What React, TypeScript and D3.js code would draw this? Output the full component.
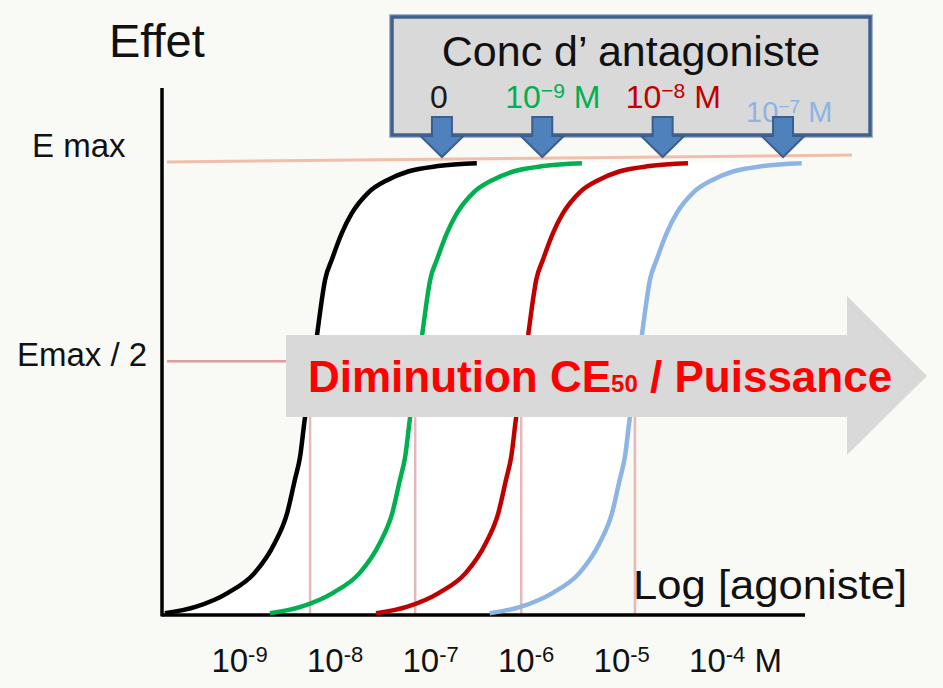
import React, { useEffect, useRef } from 'react';
import * as d3 from 'd3';

const WIDTH = 943;
const HEIGHT = 688;
const BG = '#f9f9f5';
const FONT = "'Liberation Sans', Arial, sans-serif";

// log10 [agoniste] tick values
const logTicks = [-9, -8, -7, -6, -5, -4];

// one dose-response curve:
// log offset from CE50 / effect in % of Emax
const profileLog = [-1.52, -1.2, -0.86, -0.58, -0.37, -0.24, -0.16, -0.105, -0.052, 0, 0.076, 0.112, 0.157, 0.227, 0.332, 0.437, 0.607, 0.817, 1.026, 1.34, 1.745];
const profileEffect = [0.4, 1.8, 4.9, 9.3, 15.9, 22.5, 29.8, 34.9, 43.8, 50, 62.3, 68, 74, 78.4, 84.3, 88.7, 93.2, 96.1, 97.9, 99.1, 99.7];

// antagonist concentrations (0, 10-9, 10-8, 10-7 M)
const antagonistExp = [null, '-9', '-8', '-7'];
const ec50Log = [-8.15, -7.05, -5.94, -4.75];
const pointerLog = [-6.77, -5.72, -4.46, -3.2];
const curveColors = ['#000000', '#00b050', '#c00000', '#8db4e2'];

const emaxLevel = 100;
const halfLevel = 56;

const App: React.FC = () => {
  const svgRef = useRef<SVGSVGElement | null>(null);

  useEffect(() => {
    if (!svgRef.current) return;
    const svg = d3.select(svgRef.current);
    svg.selectAll('*').remove();

    const x = d3.scaleLinear().domain([-9.7, -2.97]).range([162, 805]);
    const y = d3.scaleLinear().domain([0, 100]).range([615, 162]);
    const [x0, x1] = x.range();
    const yBottom = y(0);

    const line = d3.line<[number, number]>()
      .x(d => x(d[0]))
      .y(d => y(d[1]))
      .curve(d3.curveMonotoneX);

    const curvePts = ec50Log.map(ec =>
      profileLog.map((p, i) => [ec + p, profileEffect[i]] as [number, number])
    );

    svg.append('rect').attr('width', WIDTH).attr('height', HEIGHT).attr('fill', BG);

    // white band between first and last curve
    const first = curvePts[0];
    const last = curvePts[curvePts.length - 1];
    svg.append('path')
      .attr('d', line(first) + ` L${x1},${y(emaxLevel)} L${x1},${yBottom} L${x(first[0][0])},${yBottom} Z`)
      .attr('fill', '#ffffff');
    svg.append('path')
      .attr('d', line(last) + ` L${x1 + 2},${y(emaxLevel)} L${x1 + 2},${yBottom} Z`)
      .attr('fill', BG);

    // CE50 guides
    ec50Log.forEach(ec => {
      svg.append('line')
        .attr('x1', x(ec)).attr('x2', x(ec))
        .attr('y1', y(halfLevel)).attr('y2', yBottom)
        .attr('stroke', '#e6b9b9').attr('stroke-width', 2.5);
    });

    svg.append('line')
      .attr('x1', x0 + 5).attr('x2', 300)
      .attr('y1', y(halfLevel)).attr('y2', y(halfLevel))
      .attr('stroke', '#dc9e9e').attr('stroke-width', 2.5);

    svg.append('line')
      .attr('x1', x0 + 5).attr('x2', x1 + 47)
      .attr('y1', y(emaxLevel)).attr('y2', y(emaxLevel) - 7)
      .attr('stroke', '#eeab92').attr('stroke-width', 3).attr('opacity', 0.75);

    // axes
    svg.append('line')
      .attr('x1', x0).attr('x2', x0).attr('y1', 88).attr('y2', yBottom + 1.5)
      .attr('stroke', '#000').attr('stroke-width', 3.5);
    svg.append('line')
      .attr('x1', x0).attr('x2', x1).attr('y1', yBottom).attr('y2', yBottom)
      .attr('stroke', '#000').attr('stroke-width', 3.5);

    curvePts.forEach((pts, i) => {
      svg.append('path')
        .attr('d', line(pts))
        .attr('fill', 'none')
        .attr('stroke', curveColors[i])
        .attr('stroke-width', 4.5);
    });

    // big grey arrow
    const arrow = d3.path();
    arrow.moveTo(286, 335);
    arrow.lineTo(847, 335);
    arrow.lineTo(847, 296);
    arrow.lineTo(927, 376);
    arrow.lineTo(847, 455);
    arrow.lineTo(847, 417);
    arrow.lineTo(286, 417);
    arrow.closePath();
    svg.append('path').attr('d', arrow.toString()).attr('fill', '#d9d9d9');

    const dim = svg.append('text')
      .attr('x', 308).attr('y', 392)
      .attr('font-family', FONT).attr('font-weight', 'bold')
      .attr('font-size', 44).attr('fill', '#ff0000');
    dim.append('tspan').text('Diminution CE');
    dim.append('tspan').attr('font-size', 24).text('50');
    dim.append('tspan').text(' / Puissance');

    // legend box
    svg.append('rect')
      .attr('x', 390).attr('y', 15).attr('width', 482).attr('height', 122)
      .attr('fill', 'none').attr('stroke', '#a9b5c9').attr('stroke-width', 2);
    svg.append('rect')
      .attr('x', 392).attr('y', 17).attr('width', 478).attr('height', 118)
      .attr('fill', '#d9d9d9').attr('stroke', '#41608d').attr('stroke-width', 3.5);

    svg.append('text')
      .attr('x', 631).attr('y', 66)
      .attr('text-anchor', 'middle')
      .attr('font-family', FONT).attr('font-size', 43).attr('fill', '#111')
      .text('Conc d\u2019 antagoniste');

    pointerLog.forEach((p, i) => {
      const px = x(p);
      const exp = antagonistExp[i];
      const isLast = i === pointerLog.length - 1;
      const size = isLast ? 29 : 32;
      const base = isLast ? 122 : 108;
      const t = svg.append('text')
        .attr('font-family', FONT).attr('font-size', size)
        .attr('fill', i === 0 ? '#1a1a1a' : curveColors[i]);
      if (exp === null) {
        t.attr('x', px - 3).attr('y', base).attr('text-anchor', 'middle').text('0');
      } else {
        t.attr('x', px - 37).attr('y', base);
        t.append('tspan').text('10');
        t.append('tspan').attr('font-size', size * 0.66).attr('dy', -size * 0.3).text(exp.replace('-', '\u2212'));
        t.append('tspan').attr('dy', size * 0.3).text(' M');
      }

      const ptr = d3.path();
      ptr.moveTo(px - 10, 117);
      ptr.lineTo(px + 10, 117);
      ptr.lineTo(px + 10, 136);
      ptr.lineTo(px + 21.5, 136);
      ptr.lineTo(px, 157);
      ptr.lineTo(px - 21.5, 136);
      ptr.lineTo(px - 10, 136);
      ptr.closePath();
      svg.append('path').attr('d', ptr.toString())
        .attr('fill', '#4f81bd').attr('stroke', '#3b5f8c').attr('stroke-width', 2);
    });

    // axis texts
    svg.append('text')
      .attr('x', 109).attr('y', 57)
      .attr('font-family', FONT).attr('font-size', 47).attr('fill', '#111')
      .text('Effet');
    svg.append('text')
      .attr('x', 32).attr('y', 157)
      .attr('font-family', FONT).attr('font-size', 33).attr('fill', '#111')
      .text('E max');
    svg.append('text')
      .attr('x', 17).attr('y', y(halfLevel) + 5)
      .attr('font-family', FONT).attr('font-size', 33).attr('fill', '#111')
      .text('Emax / 2');
    svg.append('text')
      .attr('x', 633).attr('y', 599)
      .attr('font-family', FONT).attr('font-size', 41).attr('fill', '#111')
      .attr('textLength', 274).attr('lengthAdjust', 'spacingAndGlyphs')
      .text('Log [agoniste]');

    logTicks.forEach((v, i) => {
      const t = svg.append('text')
        .attr('x', x(v) - 17.5).attr('y', 672)
        .attr('font-family', FONT).attr('font-size', 33).attr('fill', '#111');
      t.append('tspan').text('10');
      t.append('tspan').attr('font-size', 22).attr('dy', -10).text(String(v));
      if (i === logTicks.length - 1) {
        t.append('tspan').attr('dy', 10).text(' M');
      }
    });
  }, []);

  return (
    <>
      <style>{`body{margin:0;background:${BG};}`}</style>
      <svg ref={svgRef} width={WIDTH} height={HEIGHT} style={{ display: 'block' }} />
    </>
  );
};

export default App;
